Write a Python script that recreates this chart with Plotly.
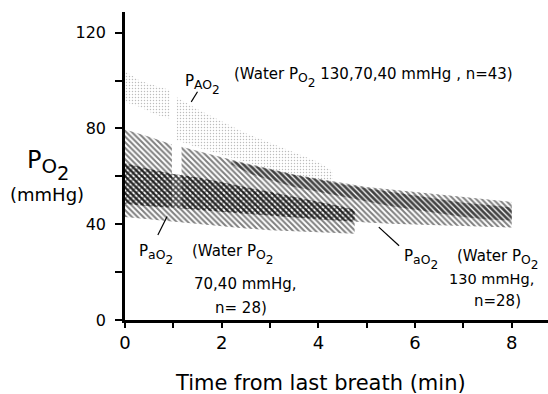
import plotly.graph_objects as go

# ---------------- data ----------------
# common time grid for the PaO2 bands (min)
x_band = [0, 0.5, 0.97, 1.17, 1.5, 2.0, 2.5, 3.0, 3.5, 4.0, 4.5, 4.75,
          5.0, 5.5, 6.0, 6.5, 7.0, 7.5, 8.0]
# PaO2 band, water PO2 130 mmHg (n=28)
pa130_top = [79.5, 76.5, 73.3, 72.3, 70.5, 68.0, 65.5, 63.0, 60.8, 59.0, 57.3, 56.5,
             55.5, 54.5, 53.5, 52.3, 51.3, 50.3, 49.3]
pa130_bot = [48.5, 47.5, 46.9, 46.6, 46.0, 45.2, 44.4, 43.6, 42.8, 42.0, 41.3, 41.0,
             40.7, 40.2, 39.8, 39.5, 39.2, 38.9, 38.6]
# PaO2 band, water PO2 70,40 mmHg (n=28) -- first 12 grid points (0..4.75 min)
pa7040_top = [65.4, 63.0, 61.1, 60.5, 59.5, 57.5, 55.5, 53.5, 51.5, 49.5, 47.3, 46.0]
pa7040_bot = [43.0, 42.0, 41.1, 40.8, 40.0, 39.0, 38.2, 37.5, 37.0, 36.6, 36.2, 36.0]
# darker core inside the 130 band
core_x = [2.2, 2.6, 3.0, 3.5, 4.0, 4.5, 5.0, 5.5, 6.0, 6.5, 7.0, 7.5, 8.0]
core_top = [66.5, 64.8, 62.8, 60.5, 58.5, 56.7, 55.0, 53.5, 52.0, 50.5, 49.0, 48.0, 47.0]
core_bot = [65.0, 61.0, 58.5, 55.5, 53.5, 51.5, 49.5, 47.5, 46.0, 44.5, 43.0, 42.0, 41.5]
# PAO2 stipple (water PO2 130,70,40 mmHg, n=43), two clusters
pA1_x = [0, 0.3, 0.6, 0.93]
pA1_top = [104, 100, 98, 96]
pA1_bot = [91, 89, 86, 84]
pA2_x = [1.07, 1.5, 2.0, 2.5, 3.0, 3.5, 4.0, 4.3]
pA2_top = [93, 88, 83, 78, 74, 70, 66, 62]
pA2_bot = [75, 72, 69, 66, 63, 60, 58, 57]

x_ticks = [0, 1, 2, 3, 4, 5, 6, 7, 8]
x_ticktext = ["0", "", "2", "", "4", "", "6", "", "8"]
y_ticks = [0, 20, 40, 60, 80, 100, 120]
y_ticktext = ["0", "", "40", "", "80", "", "120"]

FONT = "DejaVu Sans"
fig = go.Figure()


def band(x, lo, hi, shape, size, solidity, color="black"):
    fig.add_trace(go.Scatter(x=x, y=lo, mode="lines", line=dict(width=0),
                             hoverinfo="skip", showlegend=False))
    fig.add_trace(go.Scatter(x=x, y=hi, mode="lines", line=dict(width=0),
                             fill="tonexty", fillcolor="rgba(0,0,0,0)",
                             fillpattern=dict(shape=shape, fgcolor=color,
                                              bgcolor="rgba(0,0,0,0)",
                                              size=size, solidity=solidity),
                             hoverinfo="skip", showlegend=False))


# stipple PAO2
band(pA1_x, pA1_bot, pA1_top, ".", 3, 0.18, "#7a7a7a")
band(pA2_x, pA2_bot, pA2_top, ".", 3, 0.18, "#7a7a7a")

n7040 = len(pa7040_top)
# 130 band, split at the small gap near 1 min
band(x_band[:3], pa130_bot[:3], pa130_top[:3], "\\", 4, 0.5)
band(x_band[3:], pa130_bot[3:], pa130_top[3:], "\\", 4, 0.5)
# 70,40 band
band(x_band[:n7040], pa7040_bot, pa7040_top, "\\", 4, 0.5)
# overlap of the two bands (cross-hatch)
band(x_band[:n7040], pa130_bot[:n7040], pa7040_top, "x", 4, 0.62)
# darker core
band(core_x, core_bot, core_top, "\\", 4, 0.72)

fig.update_xaxes(range=[0, 8.75], tickvals=x_ticks, ticktext=x_ticktext,
                 ticks="outside", ticklen=5, tickwidth=2, tickcolor="black",
                 showline=True, linecolor="black", linewidth=2.5,
                 showgrid=False, zeroline=False,
                 tickfont=dict(family=FONT, size=18, color="black"))
fig.update_yaxes(range=[0, 128.6], tickvals=y_ticks, ticktext=y_ticktext,
                 ticks="outside", ticklen=7, tickwidth=2, tickcolor="black",
                 showline=True, linecolor="black", linewidth=2.5,
                 showgrid=False, zeroline=False, ticklabelstandoff=6,
                 tickfont=dict(family=FONT, size=16, color="black"))

ann = []


def txt(x, y, s, size=14, xanchor="left", yanchor="top", xref="x", yref="y"):
    ann.append(dict(x=x, y=y, xref=xref, yref=yref, text=s, showarrow=False,
                    xanchor=xanchor, yanchor=yanchor,
                    font=dict(family=FONT, size=size, color="black")))


def psub(letters):
    return ("P<sub><span style='font-size:118%'>" + letters +
            "<sub><sub><span style='font-size:200%'>2</span></sub></sub></span></sub>")


PO2 = psub("O")
txt(1.2, 104.5, psub("AO"), size=15)
txt(2.21, 107.5, "(Water " + PO2 + " 130,70,40 mmHg , n=43)", size=15)
txt(0.25, 33.5, psub("aO"), size=15)
txt(1.34, 33.5, "(Water " + PO2, size=15)
txt(1.38, 19.5, "70,40 mmHg,", size=15)
txt(1.82, 9.5, "n= 28)", size=15)
txt(5.72, 31.5, psub("aO"), size=15)
txt(6.83, 31.5, "(Water " + PO2, size=15)
txt(8.51, 21.3, "130 mmHg,", xanchor="right", size=14.5)
txt(7.17, 12.5, "n=28)", size=15)
# axis titles
txt(-0.236, 73.5, PO2, size=24, xref="paper")
txt(-0.184, 52.6, "(mmHg)", size=18, xanchor="center", yanchor="middle", xref="paper")
txt(0.461, -0.203, "Time from last breath (min)", size=21, xanchor="center",
    yanchor="middle", xref="paper", yref="paper")

shapes = [
    dict(type="line", x0=1.50, y0=95.3, x1=1.37, y1=91.1),
    dict(type="line", x0=0.68, y0=35.5, x1=0.87, y1=43.2),
    dict(type="line", x0=5.25, y0=38.8, x1=5.67, y1=31.0),
]
for s in shapes:
    s.update(xref="x", yref="y", line=dict(color="black", width=1.2))

fig.update_layout(width=548, height=394, margin=dict(l=125, r=0, t=12, b=74),
                  paper_bgcolor="white", plot_bgcolor="white",
                  annotations=ann, shapes=shapes, showlegend=False)
fig.write_html("out.html")
